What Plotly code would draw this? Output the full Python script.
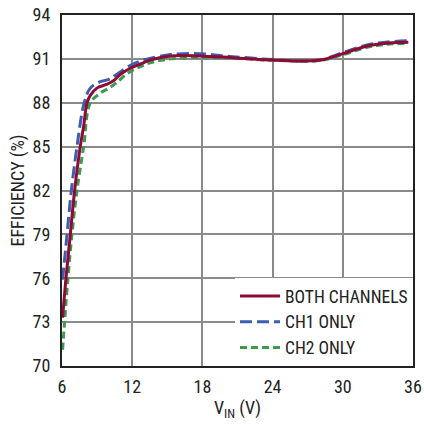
import plotly.graph_objects as go

# BOTH CHANNELS
both_v = [6.05, 6.34, 6.71, 7.08, 7.56, 7.85, 8.14, 8.42, 8.98, 9.8, 10.4, 11.0, 11.84, 12.7, 13.55, 15.26, 17.8, 20.6, 24.0, 26.4, 28.1, 30.07, 32.07, 33.8, 35.6]
both_eff = [73.3, 76.0, 79.0, 82.0, 85.0, 86.4, 88.0, 88.5, 89.0, 89.25, 89.5, 89.95, 90.36, 90.65, 90.92, 91.2, 91.2, 91.08, 90.92, 90.86, 90.92, 91.38, 91.88, 92.07, 92.13]

# CH1 ONLY
ch1_v = [6.05, 6.43, 6.8, 7.28, 7.9, 8.42, 9.27, 10.0, 10.6, 11.5, 12.5, 13.6, 15.3, 17.8, 20.6, 24.0, 26.4, 28.1, 30.07, 32.07, 33.8, 35.6]
ch1_eff = [75.9, 79.0, 82.0, 85.0, 88.0, 89.0, 89.44, 89.6, 89.9, 90.4, 90.8, 91.05, 91.3, 91.35, 91.15, 90.95, 90.85, 90.92, 91.45, 91.95, 92.15, 92.25]

# CH2 ONLY
ch2_v = [6.05, 6.22, 6.51, 6.85, 7.28, 7.85, 8.42, 9.27, 10.0, 10.7, 11.5, 12.5, 13.6, 15.3, 17.8, 20.6, 24.0, 26.4, 28.1, 30.07, 32.07, 33.8, 35.6]
ch2_eff = [71.1, 73.0, 76.0, 79.0, 82.0, 85.0, 88.0, 88.65, 89.0, 89.4, 89.95, 90.4, 90.75, 91.0, 91.1, 91.05, 90.9, 90.85, 90.9, 91.3, 91.8, 92.0, 92.05]

x_ticks = [6, 12, 18, 24, 30, 36]
y_ticks = [70, 73, 76, 79, 82, 85, 88, 91, 94]

FONT = "Liberation Sans Narrow, Roboto Condensed, Arial Narrow, Liberation Sans, sans-serif"

fig = go.Figure()
fig.add_trace(go.Scatter(x=ch2_v, y=ch2_eff, mode="lines", name="CH2 ONLY",
                         line=dict(color="#3d9a4e", width=3, dash="7px,4px", shape="spline"),
                         legendrank=3))
fig.add_trace(go.Scatter(x=ch1_v, y=ch1_eff, mode="lines", name="CH1 ONLY",
                         line=dict(color="#3c5db0", width=3, dash="12px,5px", shape="spline"),
                         legendrank=2))
fig.add_trace(go.Scatter(x=both_v, y=both_eff, mode="lines", name="BOTH CHANNELS",
                         line=dict(color="#8e0b35", width=3, shape="spline"),
                         legendrank=1))

fig.update_layout(
    width=424, height=424,
    margin=dict(l=62, r=11, t=15, b=58, autoexpand=False),
    paper_bgcolor="white", plot_bgcolor="white",
    font=dict(family=FONT, size=18, color="#222"),
    showlegend=True,
    legend=dict(x=1, y=0, xanchor="right", yanchor="bottom",
                bgcolor="white", borderwidth=0,
                font=dict(family=FONT, size=17.5, color="#222"),
                tracegroupgap=0, itemwidth=40),
    xaxis=dict(range=[6, 36], tickvals=x_ticks, showgrid=True, gridcolor="#8a8a8a", gridwidth=1.5,
               showline=True, linecolor="#222", linewidth=2, mirror=True, ticks="",
               zeroline=False, title=dict(text="V<sub>IN</sub> (V)", standoff=6, font=dict(size=18)),
               tickfont=dict(size=18), ticklabelstandoff=3, automargin=False),
    yaxis=dict(range=[70, 94], tickvals=y_ticks, showgrid=True, gridcolor="#8a8a8a", gridwidth=1.5,
               showline=True, linecolor="#222", linewidth=2, mirror=True, ticks="",
               zeroline=False, title=dict(text="EFFICIENCY (%)", standoff=3, font=dict(size=18)),
               tickfont=dict(size=18), ticklabelstandoff=6, automargin=False),
)

fig.write_html("out.html", config={"displayModeBar": False},
               post_script="document.body.style.margin='0';document.body.style.overflow='hidden';")
